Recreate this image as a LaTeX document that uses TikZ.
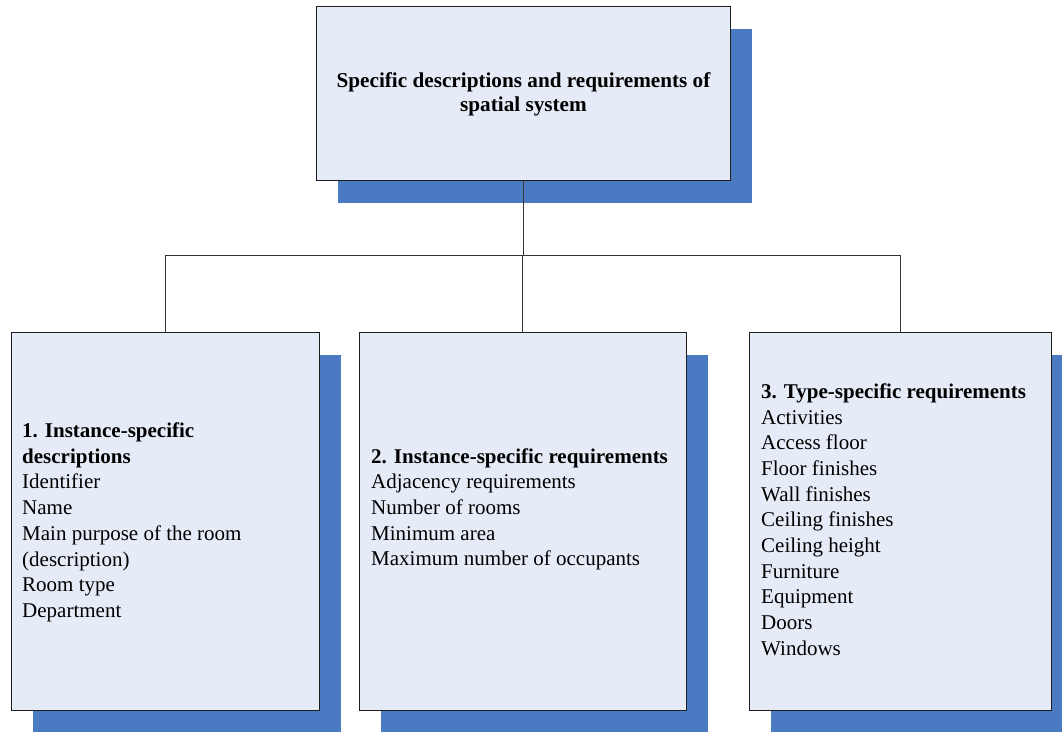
\documentclass[tikz,border=0pt]{standalone}
\usepackage{fontspec}
\setmainfont{Liberation Serif}
\usetikzlibrary{shadows}
\definecolor{boxfill}{RGB}{230,236,247}
\definecolor{shadowblue}{RGB}{74,122,194}
\definecolor{edge}{RGB}{30,30,30}
\tikzset{
  panel/.style={draw=edge, line width=0.9pt, fill=boxfill, inner sep=0pt, outer sep=0pt,
    drop shadow={shadow xshift=22pt, shadow yshift=-23pt, fill=shadowblue, opacity=1}},
  connector/.style={draw=edge!90, line width=0.9pt},
  listtext/.style={anchor=base west, inner sep=0pt, font=\fontsize{21}{25.7}\selectfont},
  titletext/.style={anchor=base, inner sep=0pt, font=\fontsize{21.2}{24}\selectfont\bfseries}
}
\begin{document}
\begin{tikzpicture}[x=1pt, y=-1pt]
  \useasboundingbox (0,0) rectangle (1062,731);

  % boxes with their blue drop shadows
  \node[panel, minimum width=414pt, minimum height=174pt] (top) at (523,93) {};
  \node[panel, minimum width=308pt, minimum height=378pt] (left) at (165,521) {};
  \node[panel, minimum width=327pt, minimum height=378pt] (mid) at (522.5,521) {};
  \node[panel, minimum width=302pt, minimum height=378pt] (right) at (900,521) {};

  % tree connectors
  \coordinate (bus) at (523,255.5);
  \draw[connector] (top.south) -- (bus);
  \draw[connector] (left.north) |- (bus);
  \draw[connector] (mid.north) -- (mid.north |- bus);
  \draw[connector] (right.north) |- (bus);

  % title
  \node[titletext] (title) at (523.5,87.5)
    {\begin{tabular}[t]{@{}c@{}}Specific descriptions and requirements of\\ spatial system\end{tabular}};

  % list contents
  \node[listtext] (lefttext) at (22,437.5)
    {\begin{tabular}[t]{@{}l@{}}\textbf{1. Instance-specific}\\ \textbf{descriptions}\\ Identifier\\ Name\\
      Main purpose of the room\\ (description)\\ Room type\\ Department\end{tabular}};
  \node[listtext] (midtext) at (371,463)
    {\begin{tabular}[t]{@{}l@{}}\textbf{2. Instance-specific requirements}\\ Adjacency requirements\\
      Number of rooms\\ Minimum area\\ Maximum number of occupants\end{tabular}};
  \node[listtext] (righttext) at (761,398.3)
    {\begin{tabular}[t]{@{}l@{}}\textbf{3. Type-specific requirements}\\ Activities\\ Access floor\\
      Floor finishes\\ Wall finishes\\ Ceiling finishes\\ Ceiling height\\ Furniture\\ Equipment\\
      Doors\\ Windows\end{tabular}};
\end{tikzpicture}
\end{document}
